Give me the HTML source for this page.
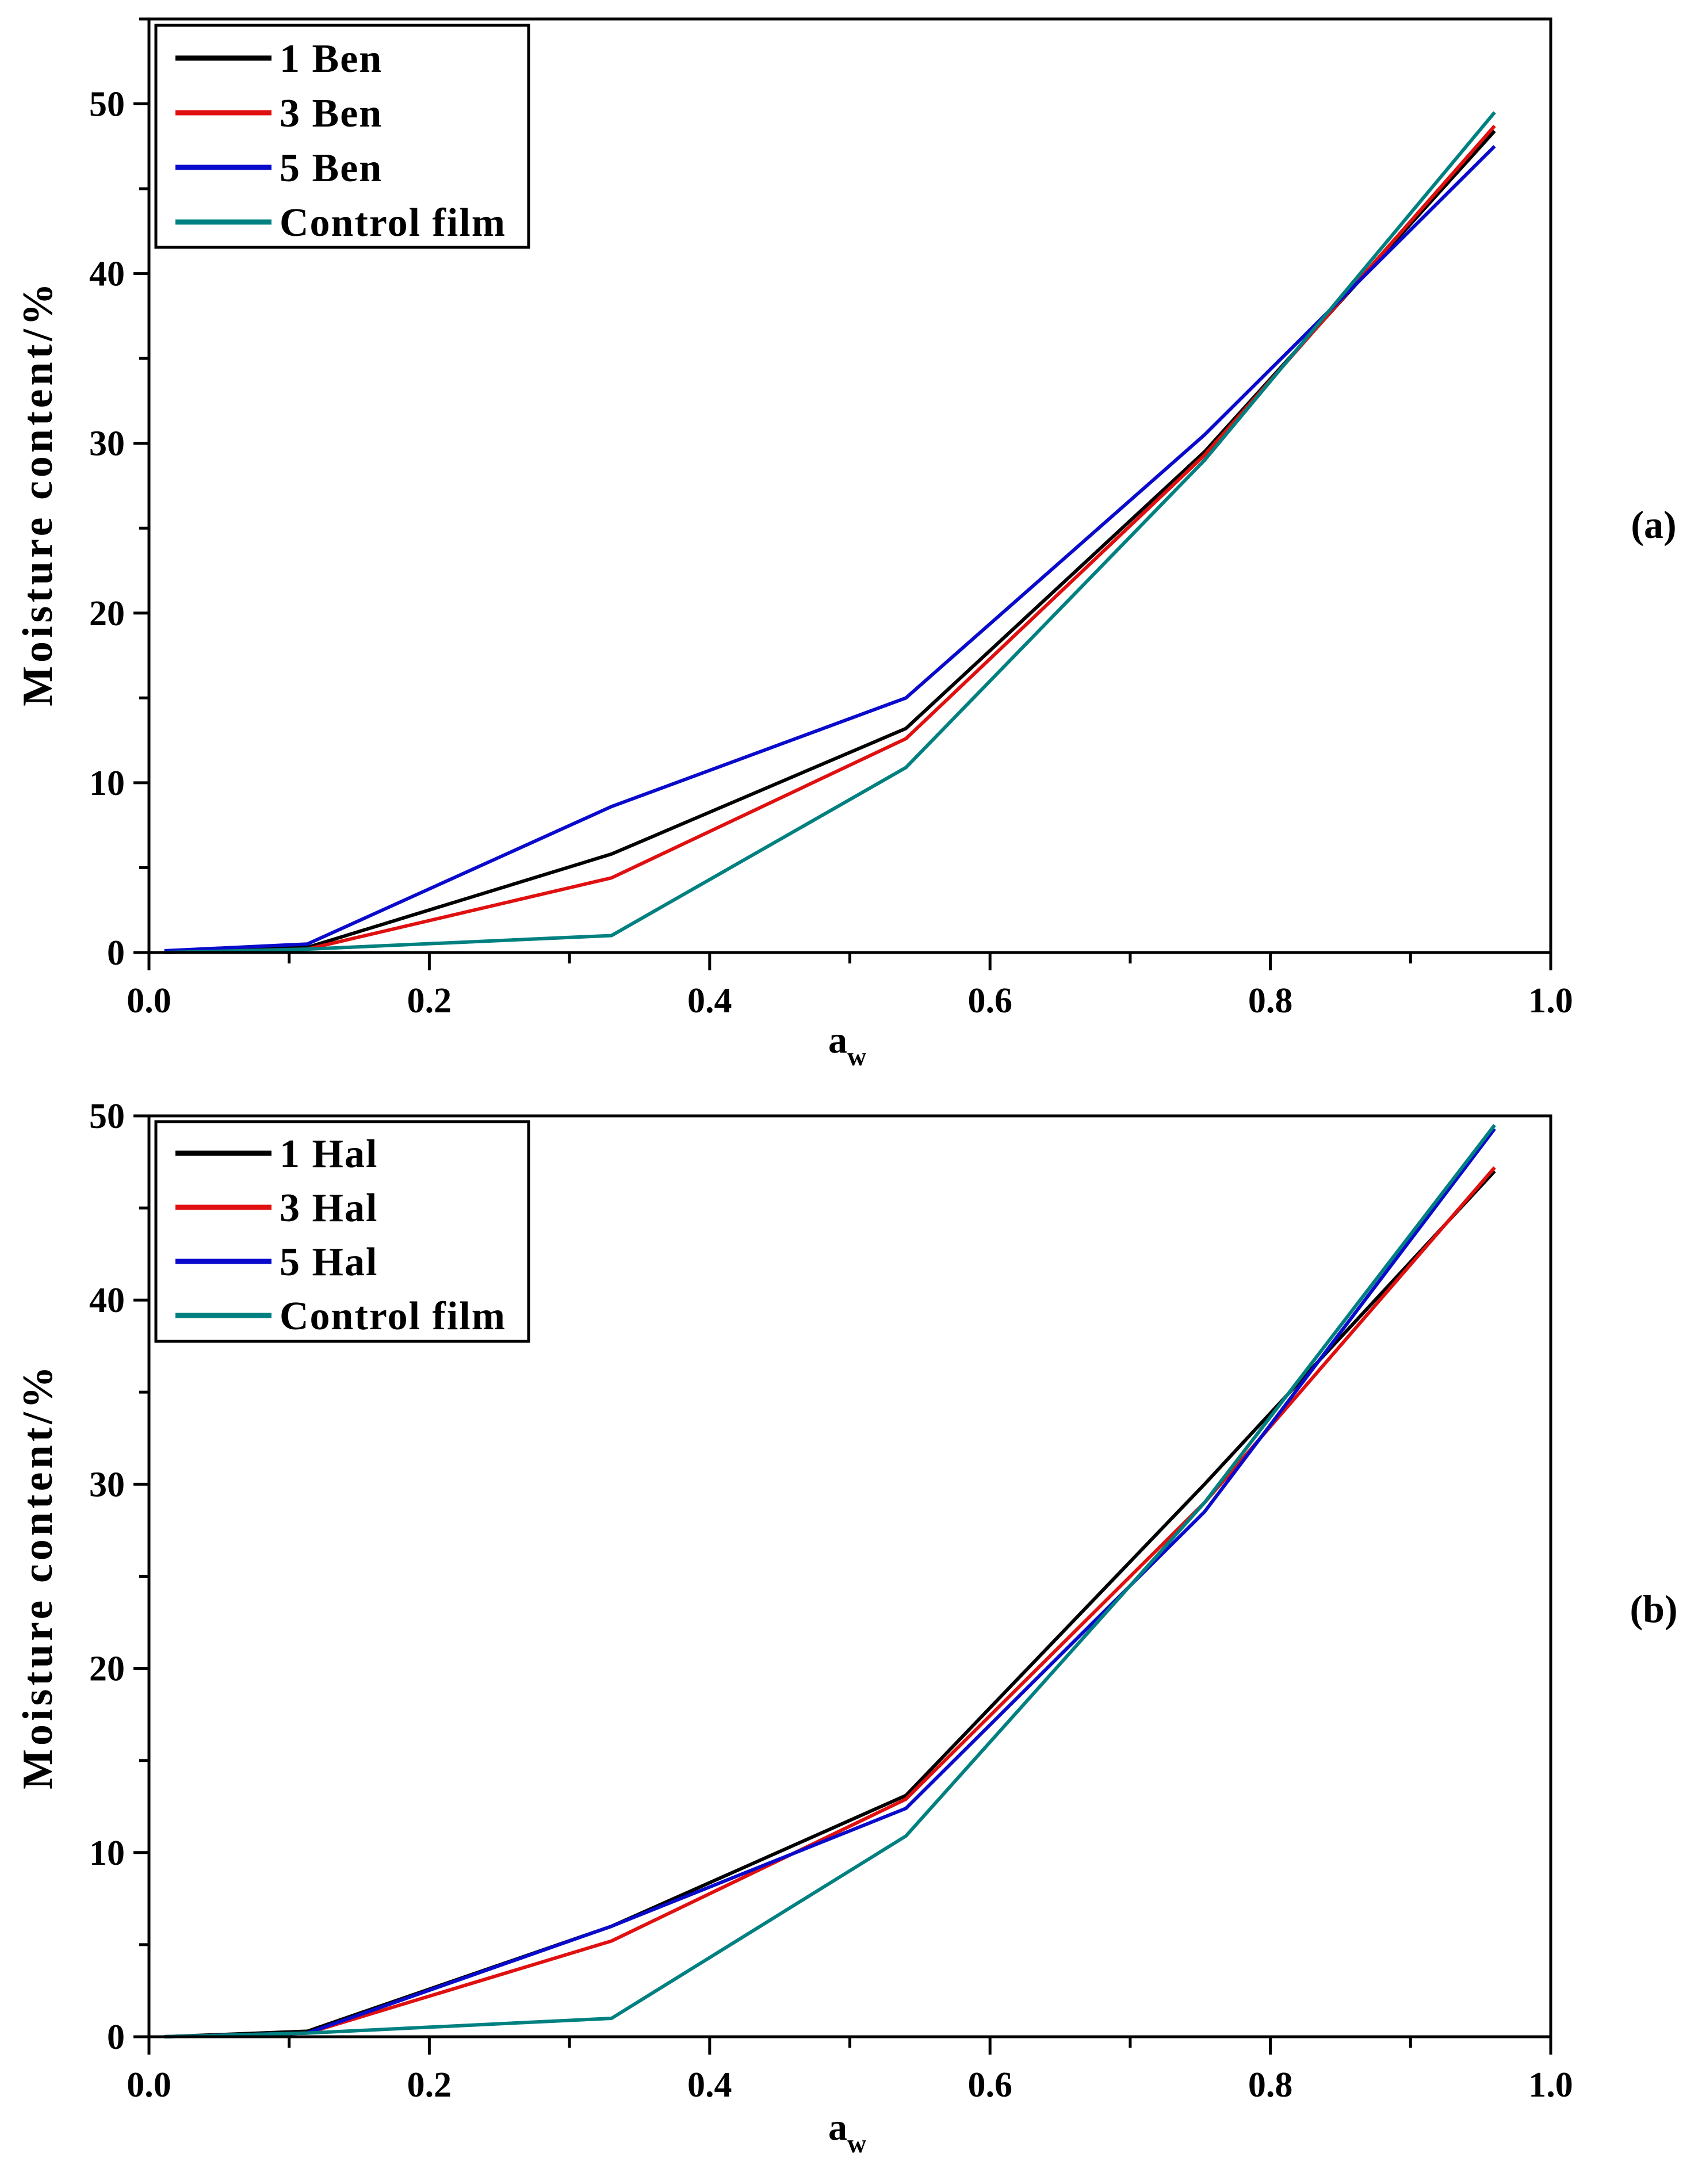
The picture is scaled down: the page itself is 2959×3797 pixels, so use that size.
<!DOCTYPE html>
<html><head><meta charset="utf-8"><style>
html,body{margin:0;padding:0;background:#fff;}
svg{display:block;}
text{font-family:"Liberation Serif",serif;font-weight:bold;fill:#000;}
</style></head>
<body>
<svg id="fig" width="2959" height="3797" viewBox="0 0 2959 3797" xmlns="http://www.w3.org/2000/svg"></svg>
<script>
const awValues = [0.011, 0.113, 0.33, 0.54, 0.753, 0.96];
const xTicks = [0.0, 0.2, 0.4, 0.6, 0.8, 1.0];
const xTickLabels = ["0.0","0.2","0.4","0.6","0.8","1.0"];
const yTicksA = [0, 10, 20, 30, 40, 50];
const yTicksB = [0, 10, 20, 30, 40, 50];
const seriesNamesA = ["1 Ben","3 Ben","5 Ben","Control film"];
const seriesNamesB = ["1 Hal","3 Hal","5 Hal","Control film"];
const colors = ["#000000","#e01010","#0a0acc","#008080"];
const ben1 = [0, 0.3, 5.8, 13.2, 29.5, 48.4];
const ben3 = [0, 0.2, 4.4, 12.6, 29.3, 48.7];
const ben5 = [0.1, 0.5, 8.6, 15.0, 30.5, 47.5];
const controlA = [0, 0.2, 1.0, 10.9, 29.0, 49.5];
const hal1 = [0, 0.3, 6.0, 13.1, 30.0, 47.0];
const hal3 = [0, 0.2, 5.2, 12.9, 29.0, 47.2];
const hal5 = [0, 0.2, 6.0, 12.4, 28.5, 49.3];
const controlB = [0, 0.2, 1.0, 10.9, 29.0, 49.5];

const NS = "http://www.w3.org/2000/svg";
const svg = document.getElementById("fig");
function mk(tag, attrs, parent){const e=document.createElementNS(NS,tag);for(const k in attrs)e.setAttribute(k,attrs[k]);(parent||svg).appendChild(e);return e;}

function panel(cfg){
  const g = mk("g",{});
  
  
  const L=259,R=2696,T=cfg.top,B=cfg.bottom;
  const sx=v=>L+(v-0)/(1-0)*(R-L);
  const sy=v=>B-(v-0)/(cfg.ymax-0)*(B-T);
  cfg.series.forEach((vals,i)=>{
    const pts=awValues.map((a,j)=>sx(a).toFixed(1)+","+sy(vals[j]).toFixed(1)).join(" ");
    const pl=mk("polyline",{points:pts,fill:"none",stroke:colors[i],"stroke-width":6,"stroke-linejoin":"round"},g);
    
    
  });
  const fr=mk("rect",{x:L,y:T,width:R-L,height:B-T,fill:"none",stroke:"#000","stroke-width":5},g);
  
  
  for(let k=0;k<=10;k++){
    const v=k/10, x=sx(v), major=k%2===0;
    mk("line",{x1:x,y1:B,x2:x,y2:B+(major?31:19),stroke:"#000","stroke-width":5},g);
  }
  xTicks.forEach((v,i)=>{
    const t=mk("text",{x:sx(v),y:B+104,"text-anchor":"middle","font-size":62},g);
    t.textContent=xTickLabels[i];
    
    
  });
  for(let v=0;v<=cfg.ymax;v+=5){
    const y=sy(v), major=v%10===0;
    mk("line",{x1:L,y1:y,x2:L-(major?27:17),y2:y,stroke:"#000","stroke-width":5},g);
  }
  cfg.yticks.forEach(v=>{
    const t=mk("text",{x:L-42,y:sy(v)+21,"text-anchor":"end","font-size":62},g);
    t.textContent=String(v);
    
    
  });
  const yt=mk("text",{x:0,y:0,"text-anchor":"middle","font-size":74,"letter-spacing":6,transform:`translate(${cfg.ytx},${cfg.yty}) rotate(-90)`},g);
  yt.textContent="Moisture content/%";
  
  
  const xt=mk("text",{x:1440,y:cfg.xty,"text-anchor":"start","font-size":66},g);
  xt.textContent="a";
  
  
  const sub=mk("tspan",{dy:22,"font-size":46},xt);sub.textContent="w";
  const pl=mk("text",{x:2875,y:cfg.lbly,"text-anchor":"middle","font-size":68},g);
  pl.textContent=cfg.label;
  
  
  const lg=mk("g",{},g);
  
  
  mk("rect",{x:271,y:cfg.legTop,width:648,height:cfg.legH,fill:"#fff",stroke:"#000","stroke-width":5},lg);
  cfg.names.forEach((n,i)=>{
    const y=cfg.legY0+i*cfg.legDy;
    const e=mk("g",{},lg);
    
    
    mk("line",{x1:305,y1:y,x2:472,y2:y,stroke:colors[i],"stroke-width":9},e);
    const t=mk("text",{x:486,y:y+24,"font-size":70,"letter-spacing":2},e);
    t.textContent=n;
  });
}
panel({name:"chart-a",top:33,bottom:1656,ymax:55,yticks:yTicksA,series:[ben1,ben3,ben5,controlA],names:seriesNamesA,
  ytx:90,yty:857,xty:1830,label:"(a)",lbly:935,legTop:44,legH:386,legY0:101,legDy:95});
panel({name:"chart-b",top:1940,bottom:3541,ymax:50,yticks:yTicksB,series:[hal1,hal3,hal5,controlB],names:seriesNamesB,
  ytx:90,yty:2740,xty:3720,label:"(b)",lbly:2820,legTop:1950,legH:382,legY0:2005,legDy:94});
</script>
</body></html>
